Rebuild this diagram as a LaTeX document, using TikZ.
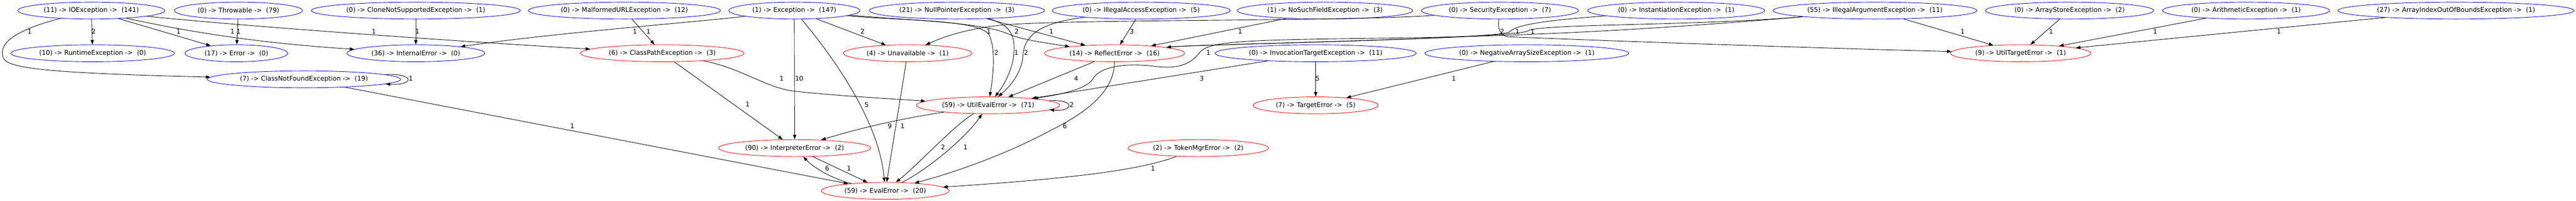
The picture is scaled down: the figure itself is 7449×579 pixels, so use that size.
\documentclass[tikz,border=0pt]{standalone}
\usepackage{fontspec}
\setmainfont{DejaVu Sans}
\usetikzlibrary{shapes.geometric,arrows.meta}

\begin{document}
\begin{tikzpicture}[x=0.75pt,y=-0.75pt,
    font=\fontsize{14}{17}\selectfont,
    javaexc/.style={ellipse, draw=blue, line width=1pt, inner xsep=9.5pt, inner ysep=1pt, minimum height=36.5pt},
    bsherr/.style={ellipse, draw=red, line width=1pt, inner xsep=9.5pt, inner ysep=1pt, minimum height=36.5pt},
    flow/.style={-{Triangle[length=10pt,width=7pt]}, line width=1pt},
    cnt/.style={inner sep=1pt}]
        \useasboundingbox (0,0) rectangle (7449,579);
        \node[javaexc] (ioe) at (264,30.5) {(11) -> IOException ->\ \ (141)};
        \node[javaexc] (thr) at (689.5,30.5) {(0) -> Throwable ->\ \ (79)};
        \node[javaexc] (cns) at (1202.5,30.5) {(0) -> CloneNotSupportedException ->\ \ (1)};
        \node[javaexc] (mal) at (1805.5,30.5) {(0) -> MalformedURLException ->\ \ (12)};
        \node[javaexc] (exc) at (2297,30.5) {(1) -> Exception ->\ \ (147)};
        \node[javaexc] (npe) at (2767,30.5) {(21) -> NullPointerException ->\ \ (3)};
        \node[javaexc] (iae) at (3300,30.5) {(0) -> IllegalAccessException ->\ \ (5)};
        \node[javaexc] (nsf) at (3831.5,30.5) {(1) -> NoSuchFieldException ->\ \ (3)};
        \node[javaexc] (sec) at (4337.5,30.5) {(0) -> SecurityException ->\ \ (7)};
        \node[javaexc] (ins) at (4847,30.5) {(0) -> InstantiationException ->\ \ (1)};
        \node[javaexc] (iarg) at (5422,30.5) {(55) -> IllegalArgumentException ->\ \ (11)};
        \node[javaexc] (ase) at (5984.5,30.5) {(0) -> ArrayStoreException ->\ \ (2)};
        \node[javaexc] (ari) at (6495,30.5) {(0) -> ArithmeticException ->\ \ (1)};
        \node[javaexc] (aio) at (7102,30.5) {(27) -> ArrayIndexOutOfBoundsException ->\ \ (1)};
        \node[javaexc] (rte) at (268,153.6) {(10) -> RuntimeException ->\ \ (0)};
        \node[javaexc] (err) at (683.5,153.6) {(17) -> Error ->\ \ (0)};
        \node[javaexc] (ine) at (1202.5,153.6) {(36) -> InternalError ->\ \ (0)};
        \node[bsherr] (cpe) at (1915,153.6) {(6) -> ClassPathException ->\ \ (3)};
        \node[bsherr] (una) at (2624.5,153.6) {(4) -> Unavailable ->\ \ (1)};
        \node[bsherr] (ref) at (3223,153.6) {(14) -> ReflectError ->\ \ (16)};
        \node[javaexc] (ite) at (3804.5,153.6) {(0) -> InvocationTargetException ->\ \ (11)};
        \node[javaexc] (nas) at (4415,153.6) {(0) -> NegativeArraySizeException ->\ \ (1)};
        \node[bsherr] (ute) at (5843,153.6) {(9) -> UtilTargetError ->\ \ (1)};
        \node[javaexc] (cnf) at (879,228.7) {(7) -> ClassNotFoundException ->\ \ (19)};
        \node[bsherr] (uee) at (2857.5,303.7) {(59) -> UtilEvalError ->\ \ (71)};
        \node[bsherr] (tge) at (3804.5,303.7) {(7) -> TargetError ->\ \ (5)};
        \node[bsherr] (ie) at (2298,427) {(90) -> InterpreterError ->\ \ (2)};
        \node[bsherr] (tme) at (3465,427) {(2) -> TokenMgrError ->\ \ (2)};
        \node[bsherr] (ee) at (2560,550.2) {(59) -> EvalError ->\ \ (20)};

        \draw[flow] (ioe) -- (rte) node[cnt] (l1) at (271,91) {2};
        \draw[flow] (ioe) -- (err) node[cnt] (l2) at (516,91) {1};
        \draw[flow] (ioe) .. controls (560,95) and (760,125) .. (ine) node[cnt] (l3) at (672,91) {1};
        \draw[flow] (ioe) .. controls (700,75) and (1300,118) .. (cpe) node[cnt] (l4) at (1081,91) {1};
        \draw[flow] (ioe) .. controls (30,90) and (0,130) .. (8,160) .. controls (8,195) and (100,210) .. (cnf) node[cnt] (l5) at (86,91) {1};
        \draw[flow] (thr) -- (err) node[cnt] (l6) at (690,91) {1};
        \draw[flow] (cns) -- (ine) node[cnt] (l7) at (1207,91) {1};
        \draw[flow] (mal) -- (cpe) node[cnt] (l8) at (1875,91) {1};
        \draw[flow] (exc) .. controls (2000,65) and (1600,95) .. (ine) node[cnt] (l9) at (1836,91) {1};
        \draw[flow] (exc) -- (una) node[cnt] (l10) at (2494,91) {2};
        \draw[flow] (exc) .. controls (2600,60) and (2830,55) .. (2860,100) .. controls (2880,140) and (2872,220) .. (uee) node[cnt] (l11) at (2881,152) {2};
        \draw[flow] (exc) .. controls (2650,60) and (2850,65) .. (2920,100) .. controls (2960,115) and (3030,125) .. (ref) node[cnt] (l12) at (2940,91) {2};
        \draw[flow] (exc) -- (ie) node[cnt] (l13) at (2311,227) {10};
        \draw[flow] (exc) .. controls (2380,130) and (2540,330) .. (ee) node[cnt] (l14) at (2506,302) {5};
        \draw[flow] (npe) .. controls (2920,70) and (2935,100) .. (2932,150) .. controls (2930,200) and (2900,250) .. (uee) node[cnt] (l15) at (2939,152) {1};
        \draw[flow] (npe) -- (ref) node[cnt] (l16) at (3040,91) {1};
        \draw[flow] (iae) .. controls (3010,65) and (2962,100) .. (2958,160) .. controls (2955,210) and (2920,250) .. (uee) node[cnt] (l17) at (2967,152) {2};
        \draw[flow] (iae) -- (ref) node[cnt] (l18) at (3273,91) {3};
        \draw[flow] (nsf) -- (ref) node[cnt] (l19) at (3586,91) {1};
        \draw[flow] (sec) .. controls (3900,62) and (3100,55) .. (2900,72) .. controls (2800,82) and (2730,105) .. (una) node[cnt] (l20) at (2859,91) {1};
        \draw[flow] (sec) .. controls (4331,80) and (4335,100) .. (4360,106) .. controls (4700,120) and (5300,140) .. (ute) node[cnt] (l21) at (4344,91) {2};
        \draw[flow] (ins) .. controls (4480,58) and (4385,70) .. (4365,92) .. controls (4345,112) and (3450,128) .. (ref) node[cnt] (l22) at (4388,91) {1};
        \draw[flow] (iarg) .. controls (4900,75) and (4470,68) .. (4420,88) .. controls (4400,112) and (3450,128) .. (ref) node[cnt] (l23) at (4432,91) {1};
        \draw[flow] (iarg) .. controls (4900,75) and (4500,104) .. (4000,110) .. controls (3600,115) and (3500,118) .. (3470,150) .. controls (3440,190) and (3400,200) .. (3330,190) .. controls (3230,180) and (3175,200) .. (3160,228) .. controls (3140,260) and (3050,275) .. (uee) node[cnt] (l24) at (3494,152) {1};
        \draw[flow] (iarg) -- (ute) node[cnt] (l25) at (5675,91) {1};
        \draw[flow] (ase) -- (ute) node[cnt] (l26) at (5931,91) {1};
        \draw[flow] (ari) -- (ute) node[cnt] (l27) at (6232,91) {1};
        \draw[flow] (aio) -- (ute) node[cnt] (l28) at (6590,91) {1};
        \draw[flow] (cnf) .. controls (1200,210) and (1200,247) .. (cnf) node[cnt] (l29) at (1188,227) {1};
        \draw[flow] (cnf) -- (ee) node[cnt] (l30) at (1655,364) {1};
        \draw[flow] (cpe) -- (ie) node[cnt] (l31) at (2162,301) {1};
        \draw[flow] (cpe) .. controls (2140,195) and (2210,250) .. (2290,262) .. controls (2400,275) and (2550,283) .. (uee) node[cnt] (l32) at (2260,227) {1};
        \draw[flow] (una) -- (ee) node[cnt] (l33) at (2610,364) {1};
        \draw[flow] (ref) -- (uee) node[cnt] (l34) at (3112,227) {4};
        \draw[flow] (ref) .. controls (3222,260) and (3150,320) .. (3040,375) .. controls (2900,450) and (2750,500) .. (ee) node[cnt] (l35) at (3079,364) {6};
        \draw[flow] (ite) -- (uee) node[cnt] (l36) at (3475,227) {3};
        \draw[flow] (ite) -- (tge) node[cnt] (l37) at (3810,227) {5};
        \draw[flow] (nas) -- (tge) node[cnt] (l38) at (4204,227) {1};
        \draw[flow] (uee) .. controls (3108,285) and (3108,322) .. (uee) node[cnt] (l39) at (3099,302) {2};
        \draw[flow] (uee) .. controls (2620,340) and (2500,365) .. (ie) node[cnt] (l40) at (2573,364) {9};
        \draw[flow] (uee) .. controls (2760,360) and (2660,470) .. (ee) node[cnt] (l41) at (2727,425) {2};
        \draw[flow] (ee) .. controls (2680,490) and (2790,400) .. (uee) node[cnt] (l42) at (2792,425) {1};
        \draw[flow] (ie) -- (ee) node[cnt] (l43) at (2455,486) {1};
        \draw[flow] (ee) .. controls (2420,520) and (2360,490) .. (ie) node[cnt] (l44) at (2392,486) {6};
        \draw[flow] (tme) .. controls (3300,490) and (3100,515) .. (ee) node[cnt] (l45) at (3334,486) {1};
    \end{tikzpicture}
\end{document}
